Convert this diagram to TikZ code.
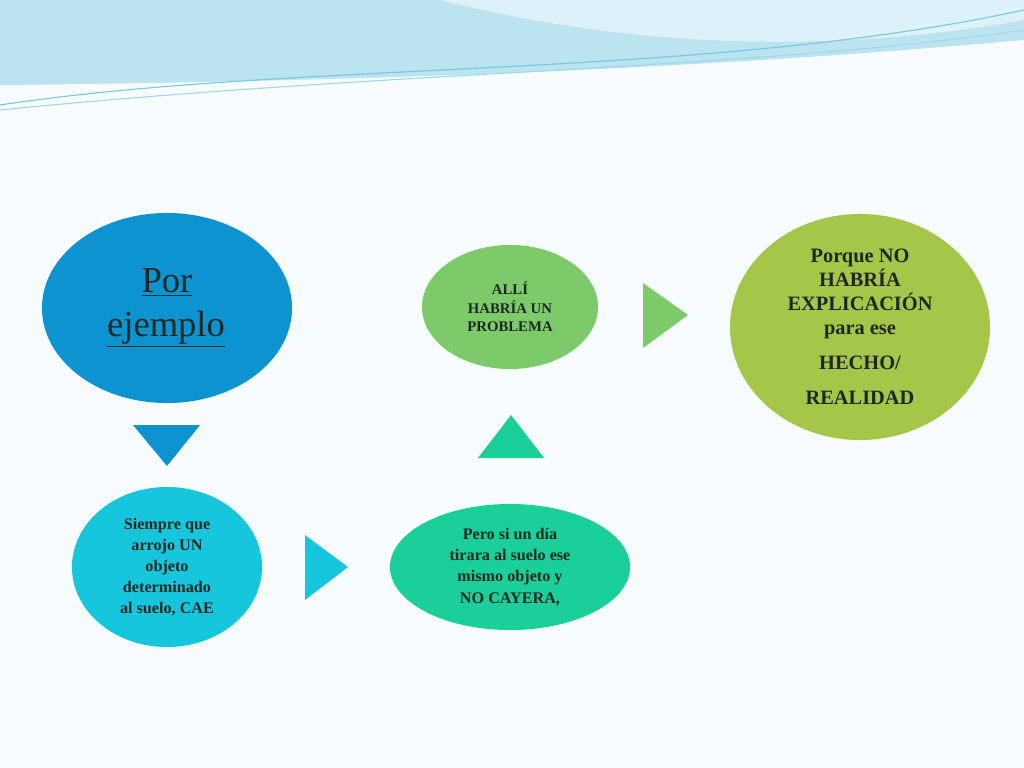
\documentclass[tikz,border=0pt]{standalone}
\usepackage{fontspec}
\setmainfont{Liberation Serif}
\usetikzlibrary{shapes.geometric}
\definecolor{exblue}{RGB}{13,147,208}
\definecolor{excyan}{RGB}{22,198,220}
\definecolor{exteal}{RGB}{26,207,153}
\definecolor{exgreen}{RGB}{125,202,106}
\definecolor{exolive}{RGB}{166,198,74}
\definecolor{extext}{RGB}{30,40,35}
\definecolor{exwave}{RGB}{120,200,225}
\tikzstyle{bubble} = [ellipse, inner sep=0pt, align=center, text=extext, font=\bfseries]
\begin{document}
\begin{tikzpicture}[x=0.025cm, y=-0.025cm]
\fill[white!97!cyan] (0,0) rectangle (1024,768);
\useasboundingbox (0,0) rectangle (1024,768);
% Waves on top
\fill[exwave!50] (0,0) -- (1024,0) -- (1024,40) .. controls (800,60) and (500,80) .. (0,85) -- cycle;
\fill[exwave!25] (440,0) .. controls (600,40) and (800,60) .. (1024,20) -- (1024,0) -- cycle;
\draw[exwave, thick] (0,105) .. controls (300,60) and (700,80) .. (1024,10);
\draw[exwave!70, thick] (0,110) .. controls (400,70) and (750,70) .. (1024,30);

% Ellipses
\node[bubble, fill=exblue, minimum width=6.25cm, minimum height=4.75cm, font=\fontsize{26}{31}\selectfont] (ejemplo) at (167,308) {\underline{Por}\\\underline{ejemplo}{\tiny:}};
\node[bubble, fill=excyan, minimum width=4.75cm, minimum height=4cm, font=\bfseries\fontsize{11.5}{15}\selectfont] (siempre) at (167,567) {Siempre que\\arrojo UN\\objeto\\determinado\\al suelo, CAE};
\node[bubble, fill=exteal, minimum width=6cm, minimum height=3.15cm, font=\bfseries\fontsize{11.5}{15}\selectfont] (pero) at (510,567) {Pero si un día\\tirara al suelo ese\\mismo objeto y\\NO CAYERA,};
\node[bubble, fill=exgreen, minimum width=4.4cm, minimum height=3.1cm, font=\bfseries\fontsize{10.5}{13}\selectfont] (alli) at (510,307) {ALLÍ\\HABRÍA UN\\PROBLEMA};
\node[bubble, fill=exolive, minimum width=6.5cm, minimum height=5.65cm, font=\bfseries\fontsize{14.5}{17}\selectfont] (porque) at (860,327) {Porque NO\\HABRÍA\\EXPLICACIÓN\\para ese\\[8pt]HECHO/\\[8pt]REALIDAD};

% Triangles between bubbles
\fill[exblue] (133,425) -- (200,425) -- (167,466) -- cycle;
\fill[excyan] (305,535) -- (305,600) -- (348,567) -- cycle;
\fill[exteal] (478,458) -- (544,458) -- (511,415) -- cycle;
\fill[exgreen] (643,283) -- (643,348) -- (688,315) -- cycle;
\end{tikzpicture}
\end{document}
